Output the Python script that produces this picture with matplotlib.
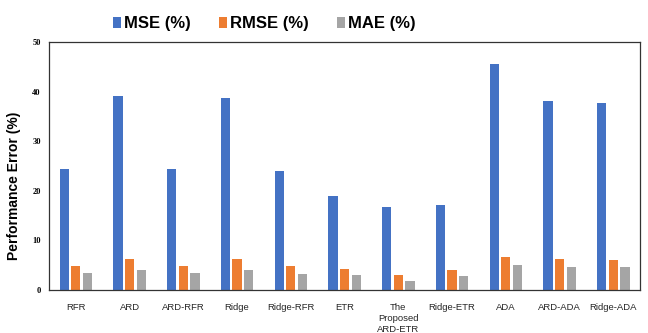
import numpy as np
import matplotlib
matplotlib.use("Agg")
import matplotlib.pyplot as plt

models = ["RFR", "ARD", "ARD-RFR", "Ridge", "Ridge-RFR", "ETR",
          "The\nProposed\nARD-ETR", "Ridge-ETR", "ADA", "ARD-ADA", "Ridge-ADA"]
mse = [24.3, 39.1, 24.4, 38.8, 24.0, 19.0, 16.7, 17.1, 45.5, 38.2, 37.6]
rmse = [4.9, 6.2, 4.9, 6.2, 4.8, 4.2, 3.0, 4.0, 6.7, 6.2, 6.0]
mae = [3.4, 4.0, 3.4, 4.0, 3.2, 3.0, 1.9, 2.8, 5.1, 4.7, 4.7]

series = [("MSE (%)", mse, "#4472C4"),
          ("RMSE (%)", rmse, "#ED7D31"),
          ("MAE (%)", mae, "#A5A5A5")]

fig = plt.figure(figsize=(6.48, 3.33), dpi=100)
ax = fig.add_axes([0.0756, 0.129, 0.9124, 0.745])

x = np.arange(len(models))
step = 0.218
width = 0.172
for k, (name, vals, color) in enumerate(series):
    ax.bar(x + (k - 1) * step, vals, width, color=color, label=name)

ax.set_xlim(-0.5, len(models) - 0.5)
ax.set_ylim(0, 50)
ax.set_yticks(range(0, 51, 10))
ax.set_xticks(x)
ax.set_xticklabels(models, fontsize=6.8, color="#262626",
                   family="Liberation Sans", linespacing=1.3)
for lbl in ax.get_yticklabels():
    lbl.set_family("Liberation Serif")
    lbl.set_fontweight("bold")
    lbl.set_fontsize(6)
ax.tick_params(axis="both", length=0, pad=6)
ax.tick_params(axis="x", pad=9)
for sp in ax.spines.values():
    sp.set_color("#333333")
    sp.set_linewidth(0.9)

ax.set_ylabel("Performance Error (%)", fontsize=10, fontweight="bold",
              family="Liberation Sans")
ax.yaxis.set_label_coords(-0.047, 0.42)

fig.legend(loc="center", bbox_to_anchor=(0.408, 0.928), ncol=3,
           frameon=False,
           prop={"family": "Liberation Sans", "size": 12, "weight": "bold"},
           handlelength=0.45, handleheight=0.7, handletextpad=0.2,
           columnspacing=1.7)

fig.savefig("out.png", dpi=100)
